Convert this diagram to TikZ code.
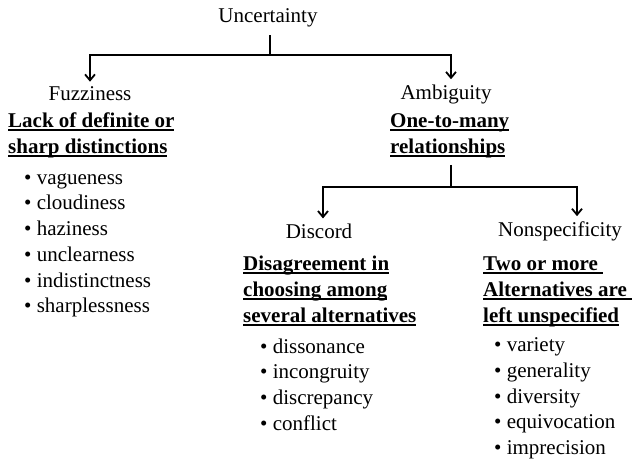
\documentclass[tikz,border=0pt]{standalone}
\usepackage{fontspec}
\setmainfont{Liberation Serif}
\usetikzlibrary{arrows.meta, positioning, calc}
\newcommand{\ulin}[1]{\setbox0=\hbox{#1}\rlap{\rule[-3.5pt]{\wd0}{1.6pt}}\box0}
\newcommand{\topln}{\rule{0pt}{16pt}}

\begin{document}
\begin{tikzpicture}[x=1pt, y=-1pt,
  lbl/.style={font=\fontsize{21}{26}\selectfont, inner sep=0pt},
  desc/.style={font=\fontsize{21}{26}\selectfont\bfseries, align=left, inner sep=0pt, anchor=north west},
  items/.style={font=\fontsize{21}{25.7}\selectfont, align=left, inner sep=0pt, anchor=north west},
  conn/.style={line width=1.8pt},
  arr/.style={conn, -{Straight Barb[length=6pt,width=10pt]}, shorten >=5pt}]
  \useasboundingbox (0,0) rectangle (634,460);

  % top level
  \node[lbl] (unc) at (268,18) {Uncertainty};
  \node[lbl] (fuzz) at (90,94) {Fuzziness};
  \node[lbl] (amb) at (446,94) {Ambiguity};
  \node[desc] (fuzzdef) at (8,111) {\topln\ulin{Lack of definite or}\\\ulin{sharp distinctions}};
  \node[desc] (ambdef) at (390,111) {\topln\ulin{One-to-many}\\\ulin{relationships}};
  \node[items] (fuzzlist) at (24,168) {\topln\textbullet\ vagueness\\\textbullet\ cloudiness\\\textbullet\ haziness\\\textbullet\ unclearness\\\textbullet\ indistinctness\\\textbullet\ sharplessness};

  % second level
  \node[lbl] (disc) at (319,231) {Discord};
  \node[lbl] (nons) at (560,231) {Nonspecificity};
  \node[desc] (discdef) at (243,254) {\topln\ulin{Disagreement in}\\\ulin{choosing among}\\\ulin{several alternatives}};
  \node[desc] (nonsdef) at (483,254) {\topln\ulin{Two or more\ }\\\ulin{Alternatives are\ }\\\ulin{left unspecified}};
  \node[items] (disclist) at (260,337) {\topln\textbullet\ dissonance\\\textbullet\ incongruity\\\textbullet\ discrepancy\\\textbullet\ conflict};
  \node[items] (nonslist) at (494,335.5) {\topln\textbullet\ variety\\\textbullet\ generality\\\textbullet\ diversity\\\textbullet\ equivocation\\\textbullet\ imprecision};

  % connectors
  \coordinate (uj) at (270,55);
  \draw[conn] ([yshift=-8pt]unc.south -| uj) -- (uj);
  \draw[arr] (uj) -| (fuzz.north);
  \draw[arr] (uj) -| ([xshift=5pt]amb.north);
  \coordinate (aj) at (451,187);
  \draw[conn] ([yshift=-7pt]ambdef.south -| aj) -- (aj);
  \draw[arr] (aj) -| ([xshift=4pt]disc.north);
  \draw[arr] (aj) -| ([xshift=17pt]nons.north);
\end{tikzpicture}
\end{document}
